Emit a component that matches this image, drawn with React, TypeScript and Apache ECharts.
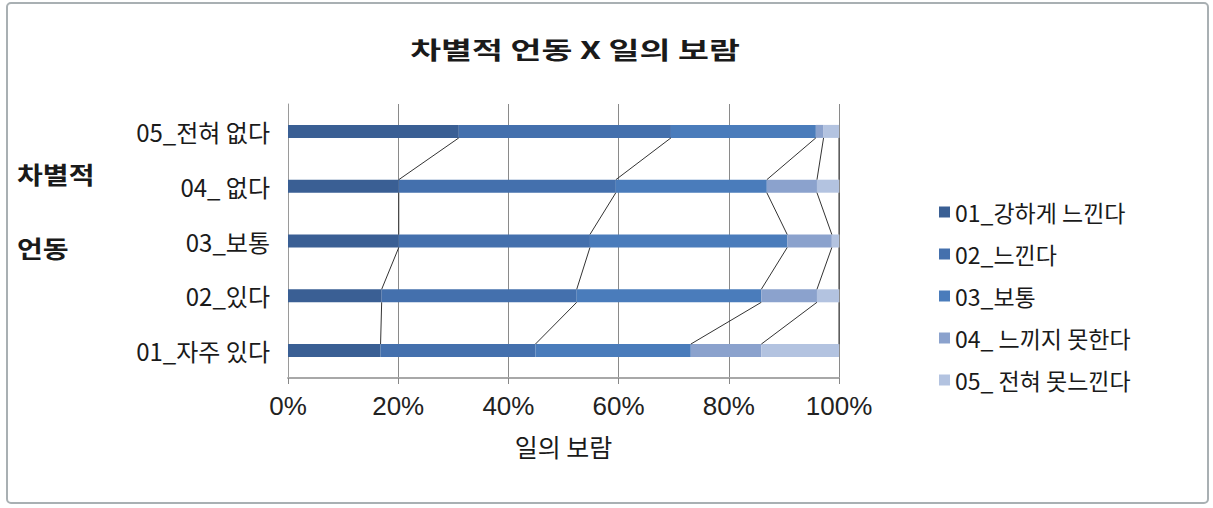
import React, { useEffect, useRef } from "react";
import * as echarts from "echarts";

const categories = ["01_자주 있다", "02_있다", "03_보통", "04_ 없다", "05_전혀 없다"];
const seriesNames = ["01_강하게 느낀다", "02_느낀다", "03_보통", "04_ 느끼지 못한다", "05_ 전혀 못느낀다"];
const s1 = [16.8, 17.0, 20.1, 20.1, 31.0];
const s2 = [28.1, 35.4, 34.7, 39.4, 38.5];
const s3 = [28.2, 33.5, 35.8, 27.4, 26.3];
const s4 = [12.8, 10.1, 8.1, 9.1, 1.4];
const s5 = [14.1, 4.0, 1.3, 4.0, 2.8];
const colors = ["#3A5F94", "#4470AD", "#4A7CBB", "#8BA2CD", "#B3C3E0"];

const FONT = "'Noto Sans CJK KR', 'Noto Sans', sans-serif";
const BAR_W = 13;

export default function App() {
  const ref = useRef<HTMLDivElement>(null);
  useEffect(() => {
    if (!ref.current) return;
    const chart = echarts.init(ref.current, undefined, { renderer: "svg" });
    const all = [s1, s2, s3, s4, s5];
    const cum: number[][] = categories.map((_, ci) => {
      let acc = 0;
      return all.map((s) => (acc += s[ci]));
    });
    const lineData: number[][] = [];
    for (let ci = 0; ci < categories.length - 1; ci++) {
      for (let k = 0; k < all.length; k++) {
        lineData.push([cum[ci][k], ci, cum[ci + 1][k], ci + 1]);
      }
    }
    const barSeries = all.map((s, i) => ({
      name: seriesNames[i],
      type: "bar",
      stack: "total",
      barWidth: BAR_W,
      data: s,
      itemStyle: { color: colors[i] },
      z: 3,
    }));
    chart.setOption({
      animation: false,
      backgroundColor: "#ffffff",
      grid: { left: 288, top: 104, width: 551, height: 274, containLabel: false },
      legend: {
        orient: "vertical",
        left: 934,
        top: 195,
        data: seriesNames,
        icon: "rect",
        itemWidth: 11,
        itemHeight: 11,
        itemGap: 18,
        textStyle: { fontSize: 23, color: "#1a1a1a", fontFamily: FONT, lineHeight: 24 },
      },
      xAxis: {
        type: "value",
        min: 0,
        max: 100,
        interval: 20,
        axisLabel: {
          formatter: "{value}%",
          fontSize: 26,
          color: "#222",
          fontFamily: "'Liberation Sans', Arial, sans-serif",
          margin: 15,
        },
        axisLine: { show: true, lineStyle: { color: "#a8a8a8", width: 2 } },
        axisTick: { show: true, length: 6, lineStyle: { color: "#888" } },
        splitLine: { show: true, lineStyle: { color: "#8a8a8a", width: 1 } },
        name: "일의 보람",
        nameLocation: "middle",
        nameGap: 55,
        nameTextStyle: { fontSize: 25, color: "#1a1a1a", fontFamily: FONT },
      },
      yAxis: {
        type: "category",
        data: categories,
        axisLine: { show: true, lineStyle: { color: "#9a9a9a", width: 1 } },
        axisTick: { show: false },
        axisLabel: { fontSize: 24, color: "#1a1a1a", fontFamily: FONT, margin: 18 },
      },
      graphic: [
        {
          type: "rect",
          shape: { x: 7, y: 3, width: 1201, height: 500, r: 4 },
          style: { fill: "none", stroke: "#a9b0b3", lineWidth: 2 },
          silent: true,
        },
        {
          type: "text",
          x: 575,
          y: 48,
          scaleX: 1.4,
          style: {
            text: "차별적 언동 X 일의 보람",
            fontSize: 24,
            fontWeight: "bold",
            fill: "#1a1a1a",
            fontFamily: FONT,
            textAlign: "center",
            textVerticalAlign: "middle",
          },
        },
        {
          type: "text",
          x: 17,
          y: 174,
          scaleX: 1.17,
          style: { text: "차별적", fontSize: 24, fontWeight: "bold", fill: "#1a1a1a", fontFamily: FONT, textVerticalAlign: "middle" },
        },
        {
          type: "text",
          x: 17,
          y: 248,
          scaleX: 1.17,
          style: { text: "언동", fontSize: 24, fontWeight: "bold", fill: "#1a1a1a", fontFamily: FONT, textVerticalAlign: "middle" },
        },
      ],
      series: [
        ...barSeries,
        {
          name: "series-lines",
          type: "custom",
          z: 4,
          encode: { x: [0, 2], y: [1, 3] },
          data: lineData,
          renderItem: (params: any, api: any) => {
            const p1 = api.coord([api.value(0), api.value(1)]);
            const p2 = api.coord([api.value(2), api.value(3)]);
            const h = BAR_W / 2;
            return {
              type: "line",
              shape: { x1: p1[0], y1: p1[1] - h, x2: p2[0], y2: p2[1] + h },
              style: { stroke: "#333", lineWidth: 1 },
            };
          },
        },
      ],
    });
    return () => chart.dispose();
  }, []);
  return (
    <div
      ref={ref}
      style={{ position: "fixed", left: 0, top: 0, width: 1213, height: 508 }}
    />
  );
}
